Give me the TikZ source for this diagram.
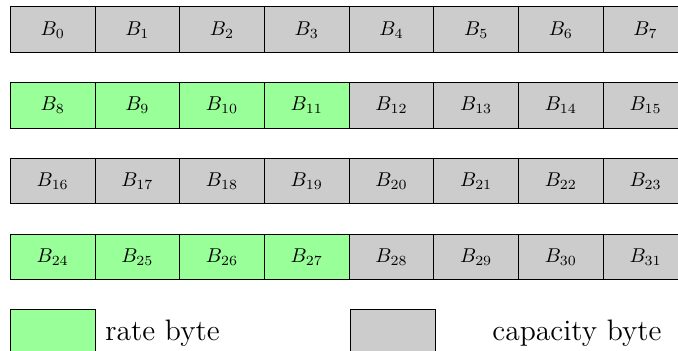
\documentclass[tikz,border=0pt]{standalone}
\begin{document}
\begin{tikzpicture}[x=0.5pt,y=-0.5pt,
  cell/.style={draw=black, line width=0.5pt, minimum width=42.35pt, minimum height=22.7pt, inner sep=0pt, outer sep=0pt, anchor=north west},
  legtext/.style={anchor=base west, inner sep=0pt, font=\fontsize{14.8}{17}\selectfont}]
\useasboundingbox (0,0) rectangle (678,351);
\clip (0,0) rectangle (678,351);
\foreach \r in {0,...,3} {
  \foreach \c in {0,...,7} {
    \pgfmathtruncatemacro\n{8*\r+\c}
    \pgfmathsetmacro\xx{10.3+84.7*\c}
    \pgfmathsetmacro\yy{7+75.67*\r}
    \pgfmathtruncatemacro\israte{and(mod(\r,2)==1, \c<4)}
    \ifnum\israte=1 \def\fc{green!40}\else\def\fc{black!20}\fi
    \node[cell, fill=\fc] (c\n) at (\xx,\yy) {$B_{\n}$};
  }
}
\node[cell, fill=green!40, minimum width=42.5pt] (legrate) at (10,310) {};
\node[legtext] (ratetxt) at (105,341) {rate byte};
\node[cell, fill=black!20, minimum width=42.75pt] (legcap) at (350,310) {};
\node[legtext] (captxt) at (492,341) {capacity byte};
\end{tikzpicture}
\end{document}
